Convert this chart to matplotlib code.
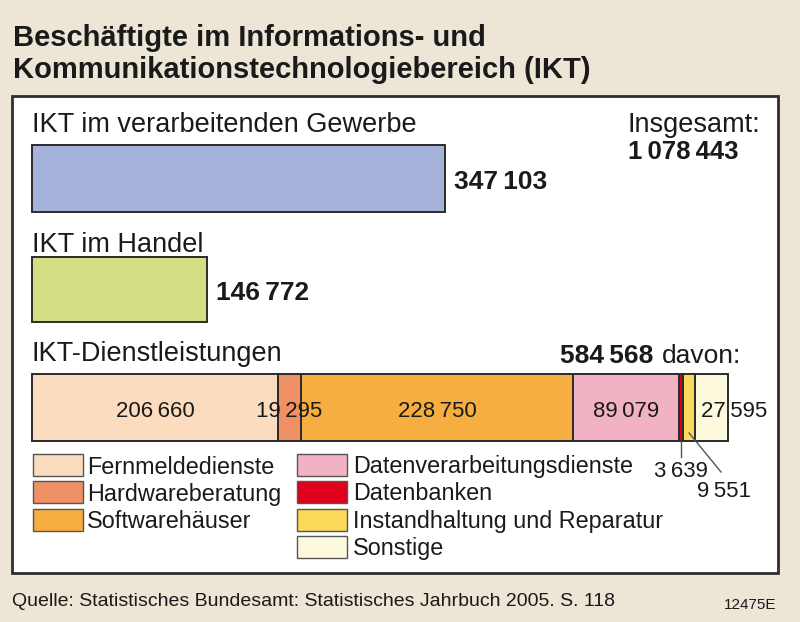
import matplotlib
matplotlib.use("Agg")
import matplotlib.pyplot as plt
from matplotlib.patches import Rectangle
import numpy as np

plt.rcParams['font.family'] = ['Liberation Sans', 'DejaVu Sans']

# ---- data ----
title_lines = ["Beschäftigte im Informations- und", "Kommunikationstechnologiebereich (IKT)"]
group_labels = ["IKT im verarbeitenden Gewerbe", "IKT im Handel", "IKT-Dienstleistungen"]
gewerbe = 347103
handel = 146772
total = 1078443
dienst_total = 584568
dienst_names = ["Fernmeldedienste", "Hardwareberatung", "Softwarehäuser",
                "Datenverarbeitungsdienste", "Datenbanken",
                "Instandhaltung und Reparatur", "Sonstige"]
dienst_values = [206660, 19295, 228750, 89079, 3639, 9551, 27595]
dienst_colors = ["#fbdcbf", "#ef9164", "#f5ae3f", "#f1b2c3", "#e0001b", "#fbd95a", "#fdf9dc"]
gewerbe_color = "#a5b3da"
handel_color = "#d3de84"
source = "Quelle: Statistisches Bundesamt: Statistisches Jahrbuch 2005. S. 118"
code = "12475E"

def fmt(v):
    s = f"{v:,}"
    return s.replace(",", "\u2009")

W, H = 800, 622
fig = plt.figure(figsize=(W / 100, H / 100), dpi=100)
fig.patch.set_facecolor("#ede6d7")

# overlay axes in pixel coordinates
ov = fig.add_axes([0, 0, 1, 1], zorder=0)
ov.set_xlim(0, W)
ov.set_ylim(H, 0)
ov.axis("off")

# white panel
ov.add_patch(Rectangle((12, 96), 766, 477, facecolor="white", edgecolor="#2e2e2e", lw=2.0))

# bar axes: x in employee units, y in pixels
x0_px = 32
s = 1 / 0.00119  # employees per pixel
ax = fig.add_axes([0, 0, 1, 1], zorder=1)
ax.set_xlim(-x0_px * s, (W - x0_px) * s)
ax.set_ylim(H, 0)
ax.axis("off")
ax.patch.set_alpha(0)
ov.patch.set_alpha(0)

def px2x(px):
    return (px - x0_px) * s

txt = "#1a1a1a"
edge = "#2b2b2b"
ax.barh(178, gewerbe, left=0, height=67, color=gewerbe_color, edgecolor=edge, lw=1.4)
ax.barh(289, handel, left=0, height=65, color=handel_color, edgecolor=edge, lw=1.4)
lefts = np.concatenate([[0], np.cumsum(dienst_values)[:-1]])
ax.barh([407] * len(dienst_values), dienst_values, left=lefts, height=67,
        color=dienst_colors, edgecolor=edge, lw=1.4)

# value labels
ax.text(gewerbe + 9 * s, 189, fmt(gewerbe), fontsize=19, fontweight="bold", va="baseline", ha="left", color=txt)
ax.text(handel + 9 * s, 300, fmt(handel), fontsize=19, fontweight="bold", va="baseline", ha="left", color=txt)

for i in range(4):
    cx = lefts[i] + dienst_values[i] / 2
    ax.text(cx, 417, fmt(dienst_values[i]), fontsize=16, va="baseline", ha="center", color=txt)
ax.text(lefts[6] + 6 * s, 417, fmt(dienst_values[6]), fontsize=16, va="baseline", ha="left", color=txt)

# leader lines for small segments
cx_red = lefts[4] + dienst_values[4] / 2
ax.plot([cx_red, cx_red], [441, 457], color="#555555", lw=1.0)
ax.text(cx_red, 477, fmt(dienst_values[4]), fontsize=16, va="baseline", ha="center", color=txt)
cx_yel = lefts[5] + dienst_values[5] / 2
ax.plot([cx_yel, px2x(721)], [433, 472], color="#555555", lw=1.0)
ax.text(px2x(724), 497, fmt(dienst_values[5]), fontsize=16, va="baseline", ha="center", color=txt)

# group labels
for lab, yb in zip(group_labels, [132, 252, 361]):
    ov.text(32, yb, lab, fontsize=19.5, va="baseline", ha="left", color=txt)

ov.text(628, 132, "Insgesamt:", fontsize=19.5, va="baseline", ha="left", color=txt)
ov.text(628, 159, fmt(total), fontsize=18.5, fontweight="bold", va="baseline", ha="left", color=txt)

ov.text(653, 363, fmt(dienst_total), fontsize=19, fontweight="bold", va="baseline", ha="right", color=txt)
ov.text(662, 363, "davon:", fontsize=19, va="baseline", ha="left", color=txt)

# legend
rows = [465, 492, 519.5, 547]
for i, (name, col) in enumerate(zip(dienst_names, dienst_colors)):
    if i < 3:
        bx, tx, yc = 33, 87, rows[i]
    else:
        bx, tx, yc = 297, 353, rows[i - 3]
    ov.add_patch(Rectangle((bx, yc - 11), 50, 22, facecolor=col, edgecolor="#555555", lw=1.0))
    ov.text(tx, yc + 8.5, name, fontsize=16.8, va="baseline", ha="left", color=txt)

# title and footer
for line, yb in zip(title_lines, [46, 78]):
    ov.text(13, yb, line, fontsize=21, fontweight="bold", va="baseline", ha="left", color=txt)
ov.text(12, 606, source, fontsize=14, va="baseline", ha="left", color=txt)
ov.text(776, 609, code, fontsize=11, va="baseline", ha="right", color=txt)

fig.savefig("out.png", dpi=100, facecolor=fig.get_facecolor())
